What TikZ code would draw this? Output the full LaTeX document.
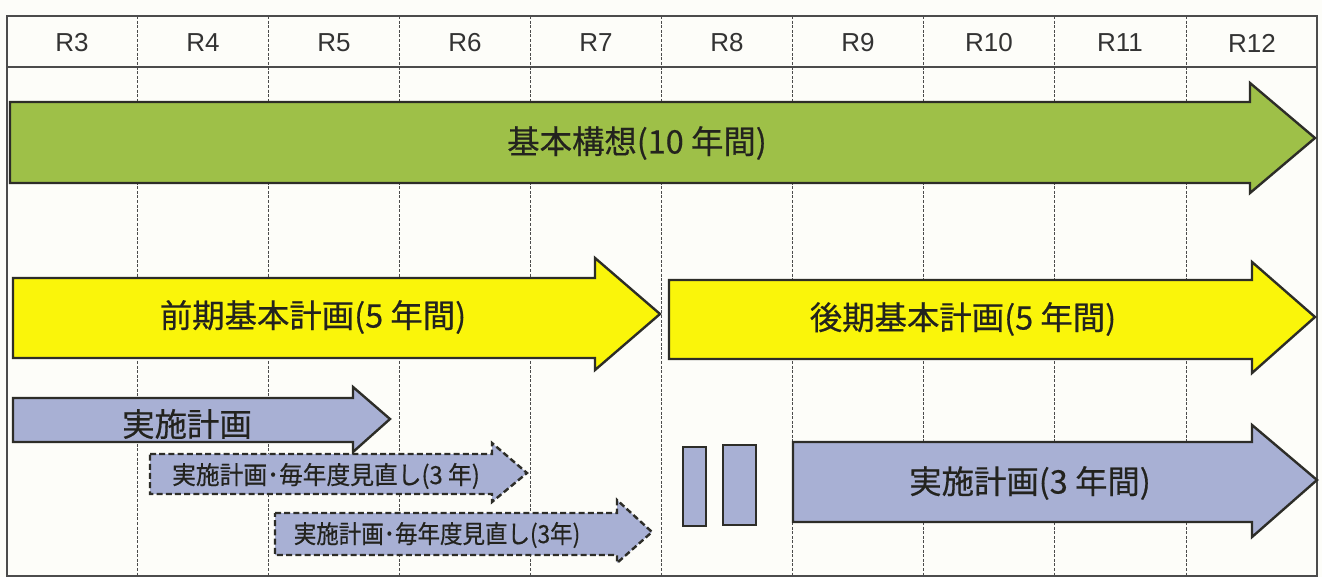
\documentclass[tikz,border=0pt]{standalone}
\usepackage{fontspec}
\setmainfont{Liberation Sans}
\newfontfamily\jp[FakeBold=0.5]{Noto Sans CJK JP}
\usepackage{graphicx}
\definecolor{bgc}{RGB}{253,253,249}
\definecolor{greenc}{RGB}{158,192,72}
\definecolor{yellowc}{RGB}{250,245,10}
\definecolor{bluec}{RGB}{168,176,212}
\definecolor{linec}{RGB}{45,45,40}
\definecolor{txtc}{RGB}{35,35,30}
\begin{document}
\begin{tikzpicture}[x=0.5pt,y=-0.5pt,
  outl/.style={draw=linec, line width=1.2pt, line join=miter},
  dashoutl/.style={draw=linec, line width=1.2pt, line join=miter, dash pattern=on 3pt off 1.6pt},
  gridv/.style={draw=black!70, line width=0.45pt, dash pattern=on 1.5pt off 0.8pt},
  gridh/.style={draw=black!70, line width=0.8pt},
  hdr/.style={font=\fontsize{13}{15}\selectfont, text=black!80, inner sep=0pt},
  bigtxt/.style={font=\jp\fontsize{16.2}{18}\selectfont, text=txtc, inner sep=0pt},
  smalltxt/.style={font=\jp\fontsize{12.5}{14}\selectfont, text=txtc, inner sep=0pt}]
\fill[bgc] (0,0) rectangle (1322,577);
\useasboundingbox (0,0) rectangle (1322,577);
% grid
\foreach \x in {137,268,399,530,661,792,923,1054,1186} {
  \draw[gridv] (\x,16) -- (\x,576);
}
\draw[gridh] (7,16) rectangle (1317,576);
\draw[gridh] (7,67) -- (1317,67);
\foreach \i/\x in {3/72,4/203,5/334,6/465,7/596,8/727,9/858,10/989,11/1120,12/1252} {
  \node[hdr] (h\i) at (\x,43) {R\i};
}
% basic concept
\path[outl, fill=greenc] (10,102) -- (1250,102) -- (1250,83) -- (1315,138) -- (1250,193) -- (1250,183) -- (10,183) -- cycle;
\node[bigtxt] (kihon) at (637,143) {基本構想(10 年間)};
% first half
\path[outl, fill=yellowc] (13,278) -- (595,278) -- (595,258) -- (660,314) -- (595,370) -- (595,358) -- (13,358) -- cycle;
\node[bigtxt] (zenki) at (313,317) {前期基本計画(5 年間)};
% second half
\path[outl, fill=yellowc] (669,280) -- (1252,280) -- (1252,262) -- (1315,317) -- (1252,373) -- (1252,359) -- (669,359) -- cycle;
\node[bigtxt] (koki) at (963,319) {後期基本計画(5 年間)};
% implementation plan 1
\path[outl, fill=bluec] (13,398) -- (353,398) -- (353,387) -- (390,419) -- (353,452) -- (353,442) -- (13,442) -- cycle;
\node[bigtxt] (jisshi1) at (187,424) {実施計画};
% dashed reviews
\path[dashoutl, fill=bluec] (150,454) -- (492,454) -- (492,443) -- (527,473) -- (492,502) -- (492,494) -- (150,494) -- cycle;
\node[smalltxt] (minaoshi1) at (326,476) {\scalebox{0.95}[1]{実施計画･毎年度見直し(3 年)}};
\path[dashoutl, fill=bluec] (275,513) -- (617,513) -- (617,500) -- (652,532) -- (617,563) -- (617,555) -- (275,555) -- cycle;
\node[smalltxt] (minaoshi2) at (437,535) {\scalebox{0.9}[1]{実施計画･毎年度見直し(3年)}};
% small rectangles
\path[outl, fill=bluec] (683,447) rectangle (706,526);
\path[outl, fill=bluec] (723,445) rectangle (756,525);
% implementation plan 3 years
\path[outl, fill=bluec] (793,442) -- (1252,442) -- (1252,425) -- (1317,480) -- (1252,537) -- (1252,522) -- (793,522) -- cycle;
\node[bigtxt] (jisshi3) at (1030,483) {実施計画(3 年間)};
\end{tikzpicture}
\end{document}
